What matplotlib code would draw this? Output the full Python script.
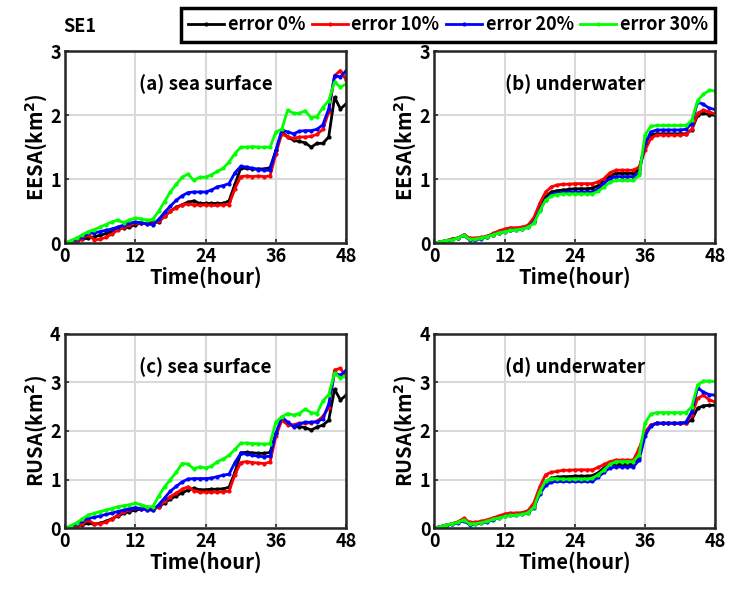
import numpy as np
import matplotlib
matplotlib.use("Agg")
import matplotlib.pyplot as plt

plt.rcParams['font.family'] = ['Noto Sans CJK SC', 'DejaVu Sans']
plt.rcParams['font.weight'] = 'bold'
plt.rcParams['mathtext.default'] = 'bf'

hours = np.arange(0, 49)
labels = ["error 0%", "error 10%", "error 20%", "error 30%"]
colors = ["#000000", "#ff0000", "#0000ff", "#00ff00"]

# (a) EESA, sea surface
eesa_sea_0 = [0, 0.01, 0.03, 0.06, 0.08, 0.10, 0.12, 0.15, 0.18, 0.22, 0.24, 0.25, 0.29, 0.31, 0.31, 0.32, 0.33,
              0.42, 0.50, 0.56, 0.60, 0.64, 0.66, 0.62, 0.62, 0.62, 0.62, 0.62, 0.66, 0.92, 1.17, 1.17, 1.16,
              1.16, 1.16, 1.18, 1.45, 1.74, 1.66, 1.61, 1.59, 1.57, 1.50, 1.56, 1.56, 1.66, 2.28, 2.10, 2.18]
eesa_sea_10 = [0, 0.02, 0.03, 0.07, 0.13, 0.05, 0.06, 0.09, 0.14, 0.20, 0.25, 0.28, 0.31, 0.31, 0.30, 0.30, 0.34,
               0.42, 0.50, 0.55, 0.60, 0.61, 0.60, 0.59, 0.60, 0.59, 0.59, 0.60, 0.60, 0.85, 1.04, 1.05, 1.04,
               1.05, 1.04, 1.05, 1.40, 1.71, 1.66, 1.64, 1.66, 1.66, 1.67, 1.70, 1.78, 2.05, 2.62, 2.70, 2.55]
eesa_sea_20 = [0, 0.03, 0.06, 0.10, 0.15, 0.16, 0.18, 0.20, 0.22, 0.25, 0.28, 0.31, 0.33, 0.32, 0.30, 0.29, 0.37,
               0.48, 0.58, 0.67, 0.74, 0.79, 0.80, 0.80, 0.80, 0.83, 0.88, 0.90, 0.93, 1.10, 1.20, 1.19, 1.17,
               1.15, 1.14, 1.14, 1.45, 1.77, 1.74, 1.71, 1.75, 1.76, 1.76, 1.78, 1.85, 2.10, 2.62, 2.60, 2.70]
eesa_sea_30 = [0, 0.04, 0.08, 0.13, 0.18, 0.21, 0.25, 0.29, 0.33, 0.36, 0.32, 0.36, 0.39, 0.38, 0.36, 0.37, 0.50,
               0.65, 0.80, 0.92, 1.03, 1.08, 0.98, 1.03, 1.03, 1.07, 1.12, 1.17, 1.27, 1.40, 1.50, 1.50, 1.51,
               1.50, 1.50, 1.50, 1.74, 1.78, 2.08, 2.03, 2.03, 2.07, 1.96, 1.98, 2.12, 2.23, 2.52, 2.44, 2.49]

# (b) EESA, underwater
eesa_under_0 = [0, 0.02, 0.04, 0.06, 0.08, 0.12, 0.07, 0.07, 0.08, 0.10, 0.13, 0.16, 0.19, 0.21, 0.22, 0.23, 0.26,
                0.35, 0.55, 0.72, 0.80, 0.82, 0.83, 0.84, 0.85, 0.85, 0.85, 0.86, 0.90, 0.98, 1.05, 1.09, 1.09,
                1.09, 1.09, 1.15, 1.56, 1.70, 1.71, 1.71, 1.71, 1.71, 1.71, 1.71, 1.77, 2.00, 2.03, 2.01, 2.00]
eesa_under_10 = [0, 0.02, 0.04, 0.06, 0.08, 0.13, 0.08, 0.08, 0.09, 0.11, 0.15, 0.19, 0.22, 0.24, 0.24, 0.25, 0.28,
                 0.40, 0.62, 0.80, 0.88, 0.91, 0.92, 0.92, 0.93, 0.93, 0.93, 0.93, 0.96, 1.01, 1.10, 1.14, 1.14,
                 1.14, 1.14, 1.19, 1.45, 1.64, 1.69, 1.69, 1.69, 1.69, 1.69, 1.70, 1.78, 2.03, 2.08, 2.05, 2.02]
eesa_under_20 = [0, 0.02, 0.03, 0.05, 0.08, 0.12, 0.05, 0.05, 0.07, 0.10, 0.13, 0.16, 0.18, 0.20, 0.21, 0.22, 0.25,
                 0.33, 0.52, 0.68, 0.76, 0.78, 0.79, 0.80, 0.80, 0.80, 0.80, 0.80, 0.85, 0.94, 1.01, 1.04, 1.04,
                 1.04, 1.04, 1.09, 1.56, 1.74, 1.77, 1.77, 1.77, 1.77, 1.77, 1.78, 1.87, 2.21, 2.17, 2.11, 2.09]
eesa_under_30 = [0, 0.02, 0.04, 0.05, 0.08, 0.12, 0.06, 0.06, 0.08, 0.10, 0.13, 0.16, 0.18, 0.20, 0.21, 0.22, 0.25,
                 0.31, 0.50, 0.67, 0.74, 0.76, 0.77, 0.77, 0.77, 0.77, 0.77, 0.77, 0.81, 0.88, 0.95, 0.98, 0.98,
                 0.98, 0.98, 1.06, 1.69, 1.83, 1.84, 1.84, 1.84, 1.84, 1.84, 1.84, 1.92, 2.23, 2.33, 2.39, 2.38]

# (c) RUSA, sea surface
rusa_sea_0 = [0, 0.02, 0.04, 0.07, 0.10, 0.08, 0.10, 0.14, 0.19, 0.25, 0.30, 0.34, 0.37, 0.39, 0.39, 0.40, 0.43,
              0.52, 0.60, 0.66, 0.73, 0.78, 0.82, 0.79, 0.79, 0.80, 0.80, 0.81, 0.84, 1.15, 1.55, 1.56, 1.55,
              1.54, 1.54, 1.56, 1.95, 2.24, 2.16, 2.10, 2.09, 2.07, 2.02, 2.08, 2.12, 2.22, 2.86, 2.64, 2.74]
rusa_sea_10 = [0, 0.02, 0.04, 0.09, 0.17, 0.08, 0.09, 0.12, 0.18, 0.27, 0.33, 0.38, 0.41, 0.40, 0.38, 0.37, 0.44,
               0.55, 0.65, 0.72, 0.80, 0.85, 0.77, 0.74, 0.74, 0.74, 0.74, 0.75, 0.76, 1.10, 1.35, 1.37, 1.35,
               1.34, 1.33, 1.36, 1.90, 2.22, 2.13, 2.13, 2.16, 2.16, 2.17, 2.20, 2.30, 2.48, 3.26, 3.29, 3.12]
rusa_sea_20 = [0, 0.03, 0.08, 0.15, 0.20, 0.22, 0.25, 0.28, 0.31, 0.34, 0.37, 0.40, 0.42, 0.40, 0.38, 0.37, 0.48,
               0.62, 0.76, 0.86, 0.95, 1.01, 1.02, 1.02, 1.02, 1.03, 1.06, 1.09, 1.11, 1.35, 1.54, 1.52, 1.50,
               1.48, 1.47, 1.48, 1.95, 2.29, 2.18, 2.09, 2.15, 2.18, 2.18, 2.19, 2.25, 2.55, 3.19, 3.15, 3.25]
rusa_sea_30 = [0, 0.05, 0.11, 0.19, 0.27, 0.30, 0.34, 0.37, 0.40, 0.44, 0.46, 0.48, 0.51, 0.48, 0.44, 0.44, 0.66,
               0.85, 1.00, 1.15, 1.33, 1.32, 1.22, 1.26, 1.24, 1.27, 1.37, 1.42, 1.50, 1.62, 1.75, 1.75, 1.74,
               1.74, 1.73, 1.74, 2.19, 2.29, 2.36, 2.33, 2.36, 2.45, 2.38, 2.36, 2.62, 2.75, 3.19, 3.09, 3.14]

# (d) RUSA, underwater
rusa_under_0 = [0, 0.03, 0.06, 0.09, 0.12, 0.18, 0.10, 0.10, 0.12, 0.14, 0.18, 0.22, 0.26, 0.28, 0.29, 0.30, 0.34,
                0.45, 0.72, 0.95, 1.03, 1.05, 1.06, 1.06, 1.07, 1.07, 1.07, 1.08, 1.14, 1.24, 1.31, 1.31, 1.31,
                1.31, 1.31, 1.45, 1.95, 2.12, 2.16, 2.16, 2.16, 2.16, 2.16, 2.16, 2.23, 2.47, 2.52, 2.53, 2.53]
rusa_under_10 = [0, 0.03, 0.06, 0.09, 0.13, 0.20, 0.12, 0.12, 0.14, 0.17, 0.21, 0.25, 0.29, 0.31, 0.31, 0.32, 0.36,
                 0.52, 0.85, 1.10, 1.15, 1.17, 1.19, 1.19, 1.20, 1.20, 1.20, 1.20, 1.25, 1.31, 1.37, 1.40, 1.40,
                 1.40, 1.40, 1.64, 1.98, 2.12, 2.16, 2.16, 2.16, 2.16, 2.16, 2.17, 2.33, 2.67, 2.74, 2.64, 2.60]
rusa_under_20 = [0, 0.03, 0.05, 0.08, 0.11, 0.15, 0.07, 0.08, 0.10, 0.13, 0.17, 0.21, 0.24, 0.26, 0.27, 0.28, 0.32,
                 0.42, 0.70, 0.88, 0.95, 0.96, 0.96, 0.96, 0.96, 0.96, 0.96, 0.96, 1.05, 1.15, 1.24, 1.26, 1.26,
                 1.26, 1.26, 1.40, 1.90, 2.10, 2.16, 2.16, 2.16, 2.16, 2.16, 2.18, 2.40, 2.89, 2.80, 2.75, 2.74]
rusa_under_30 = [0, 0.03, 0.06, 0.09, 0.12, 0.17, 0.09, 0.09, 0.11, 0.14, 0.18, 0.21, 0.24, 0.26, 0.27, 0.28, 0.32,
                 0.43, 0.75, 0.97, 1.02, 1.02, 1.01, 1.01, 1.01, 1.01, 1.01, 1.03, 1.10, 1.20, 1.31, 1.37, 1.37,
                 1.37, 1.37, 1.51, 2.16, 2.35, 2.38, 2.38, 2.38, 2.38, 2.38, 2.38, 2.50, 2.95, 3.03, 3.03, 3.02]

panels = [
    ("(a) sea surface", "EESA(km$^2$)", 3, [eesa_sea_0, eesa_sea_10, eesa_sea_20, eesa_sea_30]),
    ("(b) underwater", "EESA(km$^2$)", 3, [eesa_under_0, eesa_under_10, eesa_under_20, eesa_under_30]),
    ("(c) sea surface", "RUSA(km$^2$)", 4, [rusa_sea_0, rusa_sea_10, rusa_sea_20, rusa_sea_30]),
    ("(d) underwater", "RUSA(km$^2$)", 4, [rusa_under_0, rusa_under_10, rusa_under_20, rusa_under_30]),
]

fig = plt.figure(figsize=(7.29, 5.90), dpi=100)
rects = [[0.089, 0.588, 0.386, 0.325], [0.596, 0.588, 0.385, 0.325],
         [0.089, 0.105, 0.386, 0.329], [0.596, 0.105, 0.385, 0.329]]

handles = None
for rect, (title, ylab, ymax, series) in zip(rects, panels):
    ax = fig.add_axes(rect)
    lines = []
    for vals, c, lab in zip(series, colors, labels):
        ln, = ax.plot(hours, vals, color=c, lw=2, marker='.', ms=4, label=lab)
        lines.append(ln)
    handles = lines
    ax.set_xlim(0, 48)
    ax.set_ylim(0, ymax)
    ax.set_xticks([0, 12, 24, 36, 48])
    ax.set_yticks(range(0, ymax + 1))
    ax.grid(True, color='#d9d9d9', lw=1.5)
    ax.set_axisbelow(True)
    ax.tick_params(direction='in', labelsize=13, width=1.2, length=3, color='#262626', pad=3)
    for s in ax.spines.values():
        s.set_linewidth(1.8)
        s.set_color('#262626')
    for t in ax.get_xticklabels() + ax.get_yticklabels():
        t.set_fontweight('bold')
    ax.set_xlabel("Time(hour)", fontsize=14.5, fontweight='bold', labelpad=0)
    ax.set_ylabel(ylab, fontsize=14.5, fontweight='bold', labelpad=1)
    ax.text(0.5, 0.83, title, transform=ax.transAxes, ha='center', va='center',
            fontsize=13.5, fontweight='bold')

fig.text(0.110, 0.955, "SE1", fontsize=13, fontweight='bold', ha='center', va='center')
leg = fig.legend(handles=handles, labels=labels, loc='upper right', bbox_to_anchor=(0.981, 0.986),
                 ncol=4, fancybox=False, framealpha=1, edgecolor='black',
                 handlelength=2.0, handletextpad=0.2, columnspacing=0.35, borderpad=0.4,
                 borderaxespad=0, prop={'weight': 'bold', 'size': 13})
leg.get_frame().set_linewidth(2.5)

fig.savefig("out.png", dpi=100)
